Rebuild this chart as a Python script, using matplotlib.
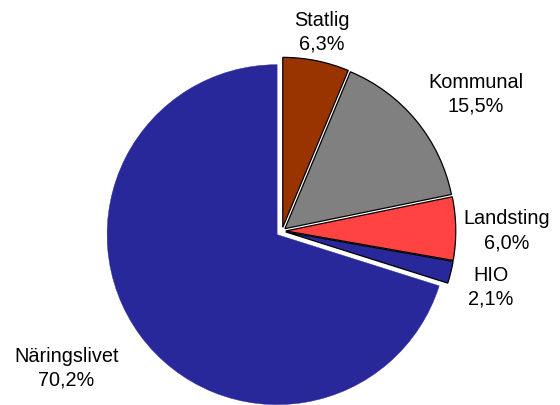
import numpy as np
import matplotlib.pyplot as plt

# data
labels = ['Statlig', 'Kommunal', 'Landsting', 'HIO', 'Näringslivet']
shares = [6.3, 15.5, 6.0, 2.1, 70.2]
colors = ['#993300', '#808080', '#ff4242', '#28289a', '#28289a']
explode = [0.022, 0.022, 0.022, 0.022, 0.036]
label_dist = [1.20, 1.40, 1.32, 1.27, 1.50]
label_shift = [0, -4, -0.5, -1, -4]   # degrees, small nudges of label angle

fig = plt.figure(figsize=(5.6, 4.06), dpi=100)
ax = fig.add_axes([0, 0, 1, 1])

wedges, _ = ax.pie(shares, colors=colors, explode=explode, startangle=90,
                   counterclock=False, radius=1.0,
                   wedgeprops={'edgecolor': 'black', 'linewidth': 0.9})
wedges[-1].set_edgecolor('#28289a')
wedges[-1].set_linewidth(0.3)

for w, lab, val, d, s in zip(wedges, labels, shares, label_dist, label_shift):
    ang = np.deg2rad((w.theta1 + w.theta2) / 2 + s)
    ax.text(d * np.cos(ang), d * np.sin(ang), f"{lab}\n{val:.1f}%".replace('.', ','),
            ha='center', va='center', fontsize=14.3, family='Liberation Sans',
            linespacing=1.32)

ax.set_xlim(-1.659, 1.635)
ax.set_ylim(-1.0235, 1.365)
ax.set_aspect('equal')
ax.axis('off')

fig.savefig('out.png', dpi=100)
